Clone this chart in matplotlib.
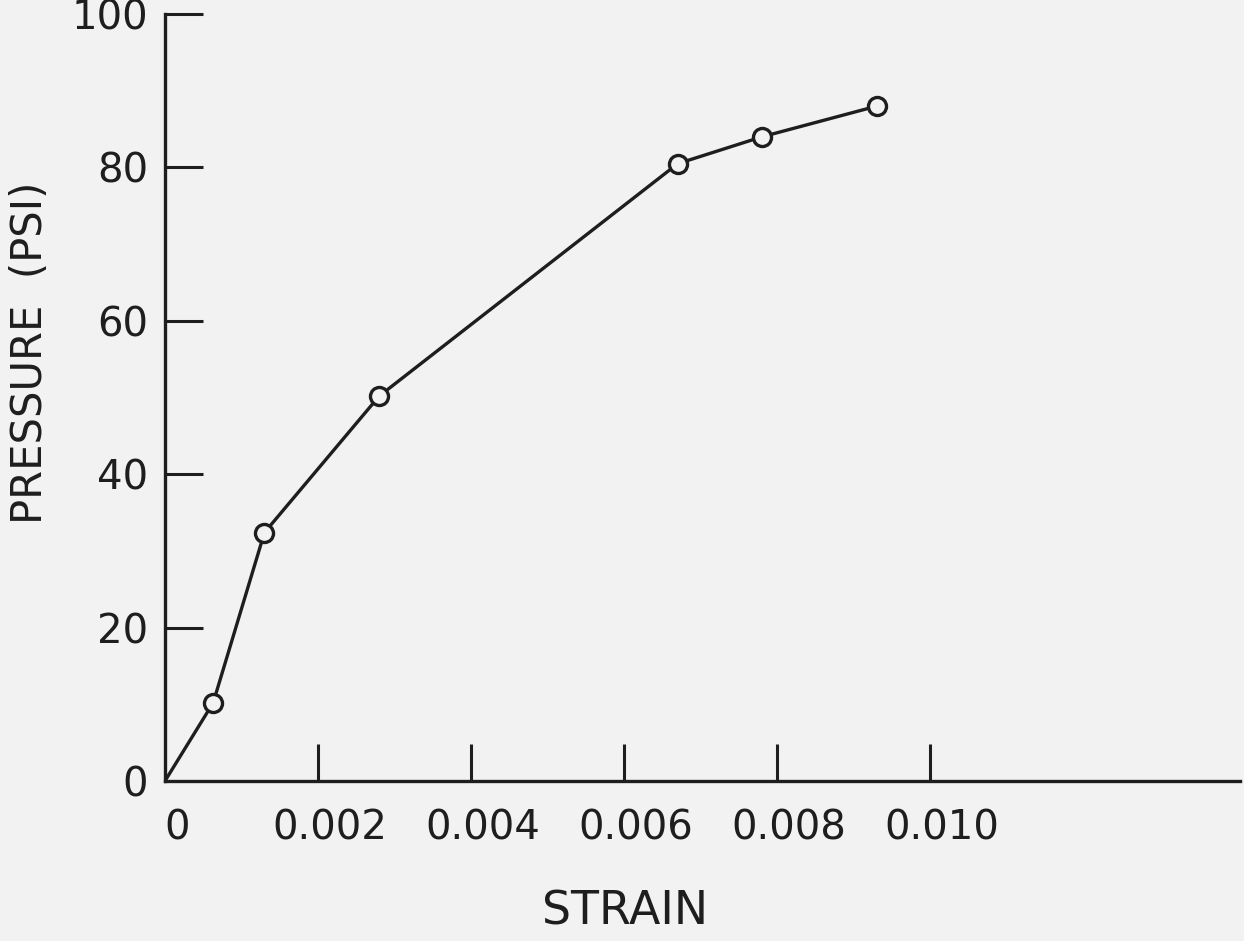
"""Pressure vs strain curve."""

import numpy as np
import matplotlib
matplotlib.use('agg')
import matplotlib.pyplot as plt
import matplotlib.transforms as mtransforms

plt.rcParams['font.family'] = 'DejaVu Sans'
plt.rcParams['font.size'] = 29

# measured points
strain = [0.0, 0.00063, 0.0013, 0.0028, 0.0067, 0.0078, 0.0093]
pressure = [0.0, 10.2, 32.4, 50.2, 80.5, 84.0, 88.0]

xticks = [0.0, 0.002, 0.004, 0.006, 0.008, 0.010]
xtick_labels = ["0", "0.002", "0.004", "0.006", "0.008", "0.010"]
yticks = [0, 20, 40, 60, 80, 100]

ink = '#1e1e1e'
paper = '#f2f2f2'

fig = plt.figure(figsize=(12.44, 9.41), dpi=100, facecolor=paper)
ax = fig.add_axes([0.1326, 0.170, 0.8644, 0.815])
ax.set_facecolor(paper)

ax.plot(strain[:-1], pressure[:-1], '-', color=ink, lw=2.4, zorder=2)
ax.plot(strain[-2:], pressure[-2:], '-', color=ink, lw=2.4, zorder=2)
ax.plot(strain[1:], pressure[1:], 'o', ms=13, mfc=paper, mec=ink, mew=2.4,
        zorder=3)

ax.set_xlim(0, 0.01405)
ax.set_ylim(0, 100)

for side in ['top', 'right']:
    ax.spines[side].set_visible(False)
for side in ['left', 'bottom']:
    ax.spines[side].set_linewidth(2.4)
    ax.spines[side].set_color(ink)
ax.spines['left'].set_bounds(0, 100)

ax.set_xticks(xticks)
ax.set_xticklabels(xtick_labels)
ax.set_yticks(yticks)
ax.tick_params(axis='x', direction='in', length=27, width=2.2, color=ink,
               pad=20, labelcolor=ink)
ax.tick_params(axis='y', direction='in', length=27, width=2.2, color=ink,
               pad=12, labelcolor=ink)
ax.xaxis.get_major_ticks()[0].tick1line.set_visible(False)
ax.yaxis.get_major_ticks()[0].tick1line.set_visible(False)

# hand lettering sits a little right of each strain tick
shift = mtransforms.ScaledTranslation(12 / 100, 0, fig.dpi_scale_trans)
for lab in ax.get_xticklabels():
    lab.set_transform(lab.get_transform() + shift)

fig.text(625 / 1244, 1 - 912 / 941, "STRAIN", ha='center', va='center',
         fontsize=33, color=ink)
fig.text(30 / 1244, 1 - 353 / 941, "PRESSURE  (PSI)", ha='center', va='center',
         rotation=90, fontsize=30, color=ink)

plt.savefig('out.png', dpi=100, facecolor=paper)
